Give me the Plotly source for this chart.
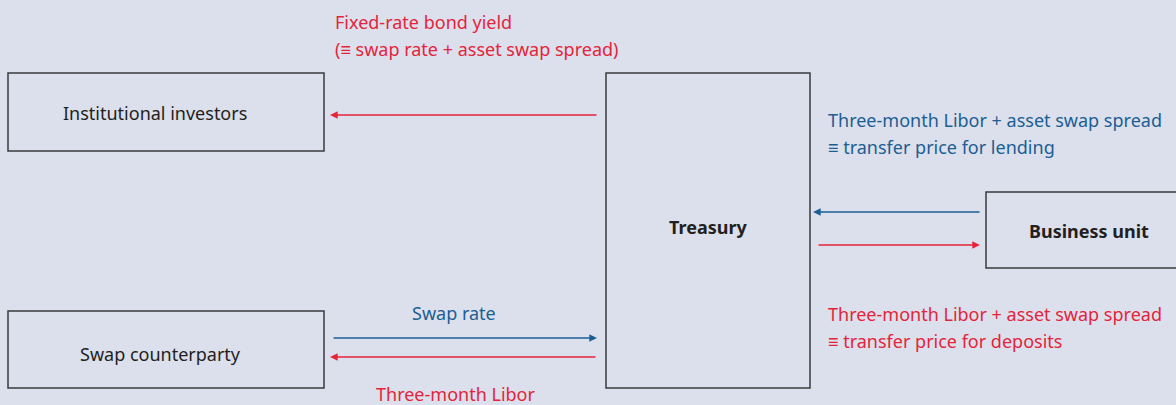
import plotly.graph_objects as go

BG = '#dce0ec'
RED = '#e5243b'
BLUE = '#1b5e93'
INK = '#231f20'
FONT = 'Noto Sans, sans-serif'

box_labels = ['Institutional investors', 'Swap counterparty', '<b>Treasury</b>', '<b>Business unit</b>']
flow_lines = [
    ['Fixed-rate bond yield', '(≡ swap rate + asset swap spread)'],
    ['Three-month Libor + asset swap spread', '≡ transfer price for lending'],
    ['Three-month Libor + asset swap spread', '≡ transfer price for deposits'],
    ['Swap rate'],
    ['Three-month Libor'],
]
flow_colors = [RED, BLUE, RED, BLUE, RED]

# boxes: x0, y0, x1, y1 in pixel space
boxes = [(8, 73, 324, 151), (8, 311, 324, 388), (606, 73, 810, 388), (986, 192, 1180, 268)]
box_centres = [(155, 113), (160, 354), (708, 227), (1089, 231)]
# arrows: tail x, tail y, head x, head y
arrows = [
    (598, 115, 330, 115, RED),
    (981, 212, 813, 212, BLUE),
    (817, 245, 980, 245, RED),
    (332, 338, 597, 338, BLUE),
    (597, 357, 330, 357, RED),
]

fig = go.Figure()
for (x0, y0, x1, y1), (cx, cy), label in zip(boxes, box_centres, box_labels):
    fig.add_shape(type='rect', x0=x0, y0=y0, x1=x1, y1=y1,
                  line=dict(color='#3a3a3c', width=1.5), fillcolor=BG)
    fig.add_annotation(x=cx, y=cy, text=label, showarrow=False,
                       font=dict(size=18, color=INK, family=FONT))

for tx, ty, hx, hy, c in arrows:
    fig.add_annotation(x=hx, y=hy, ax=tx, ay=ty, xref='x', yref='y', axref='x', ayref='y',
                       text='', showarrow=True, arrowhead=2, arrowsize=1.1,
                       arrowwidth=1.4, arrowcolor=c)

text_pos = [(333, 22, 'left'), (826, 120, 'left'), (826, 314, 'left'),
            (454, 313, 'center'), (455, 394, 'center')]
for (x, y, anchor), lines, c in zip(text_pos, flow_lines, flow_colors):
    for i, line in enumerate(lines):
        fig.add_annotation(x=x, y=y + 26.5 * i, text=line, showarrow=False,
                           xanchor=anchor, yanchor='middle',
                           font=dict(size=18, color=c, family=FONT))

fig.update_xaxes(range=[0, 1176], visible=False)
fig.update_yaxes(range=[405, 0], visible=False)
fig.update_layout(
    width=1176, height=405,
    margin=dict(l=0, r=0, t=0, b=0),
    paper_bgcolor=BG, plot_bgcolor=BG,
    showlegend=False,
)
fig.write_html('out.html', config={'displayModeBar': False},
               post_script="document.body.style.margin='0';")
